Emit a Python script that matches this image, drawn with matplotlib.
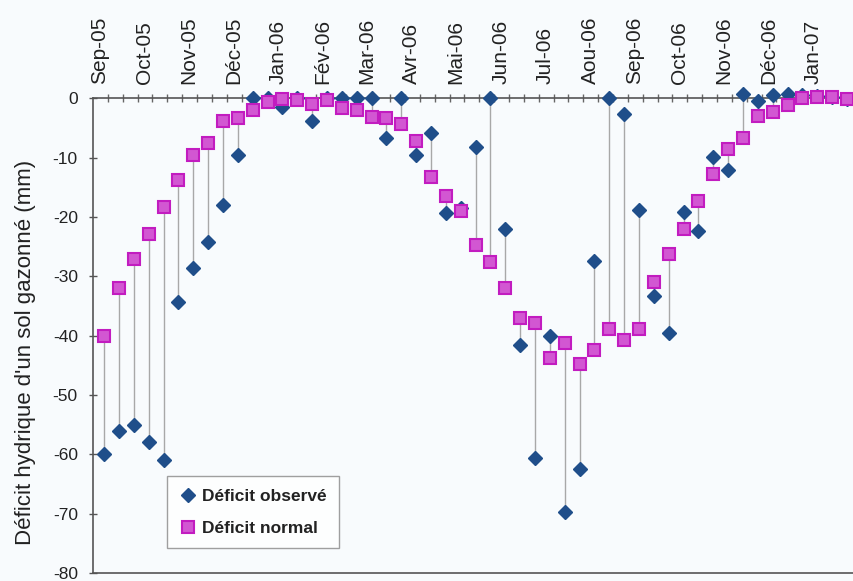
import numpy as np
import matplotlib.pyplot as plt

plt.rcParams['font.family'] = ['Liberation Sans', 'DejaVu Sans']
plt.rcParams['axes.unicode_minus'] = False

# month labels (one label every 3 "decades" of 10 days)
months = ['Sep-05', 'Oct-05', 'Nov-05', 'Déc-05', 'Jan-06', 'Fév-06', 'Mar-06',
          'Avr-06', 'Mai-06', 'Jun-06', 'Jul-06', 'Aou-06', 'Sep-06', 'Oct-06',
          'Nov-06', 'Déc-06', 'Jan-07']

# observed deficit (mm), one value per decade
observed = [-60, -56, -55, -58, -61, -34.3, -28.6, -24.2, -17.9, -9.5,
            0, 0, -1.5, 0, -3.9, 0, 0, 0, 0, -6.7,
            0, -9.6, -5.9, -19.4, -18.5, -8.2, 0, -22.1, -41.5, -60.7,
            -40.0, -69.8, -62.5, -27.5, 0, -2.7, -18.9, -33.4, -39.6, -19.2,
            -22.3, -9.9, -12.1, 0.7, -0.5, 0.6, 0.7, 0.6, 0.4, 0.2,
            -0.1]

# normal deficit (mm)
normal = [-40, -32, -27, -22.9, -18.3, -13.8, -9.5, -7.5, -3.9, -3.3,
          -2.0, -0.6, -0.2, -0.3, -0.9, -0.3, -1.6, -2.0, -3.1, -3.3,
          -4.3, -7.2, -13.2, -16.4, -19.0, -24.7, -27.6, -32.0, -37.1, -37.8,
          -43.7, -41.3, -44.7, -42.4, -38.9, -40.8, -38.8, -30.9, -26.2, -22.1,
          -17.3, -12.7, -8.5, -6.7, -3.0, -2.3, -1.1, 0.1, 0.3, 0.2,
          -0.2]

x = np.arange(len(observed))

fig = plt.figure(figsize=(8.54, 5.81), dpi=100)
fig.patch.set_facecolor('#f8fbfd')
ax = fig.add_axes([0.109, 0.0138, 0.891, 0.817])
ax.set_facecolor('#f8fbfd')

# high-low lines between the two series
ax.vlines(x, observed, normal, color='#a8a8a8', linewidth=1, zorder=2)

ax.plot(x, observed, linestyle='none', marker='D', markersize=7.5,
        color='#1f4e8a', markeredgecolor='#1f4e8a', label='Déficit observé',
        zorder=3, clip_on=False)
ax.plot(x, normal, linestyle='none', marker='s', markersize=8,
        markerfacecolor='#d257d2', markeredgecolor='#c21cc0', markeredgewidth=1.5,
        label='Déficit normal', zorder=4, clip_on=False)

ax.set_xlim(-0.74, 50.47)
ax.set_ylim(-80, 0)

# y axis
ax.set_yticks(np.arange(-80, 1, 10))
ax.tick_params(axis='y', direction='inout', length=6, width=1, color='#555555',
               labelsize=12.5, pad=8, labelcolor='#222222')
ax.set_ylabel("Déficit hydrique d'un sol gazonné (mm)", fontsize=16,
              color='#222222')
ax.yaxis.set_label_coords(-0.075, 0.465)

# x axis on top, ticks per decade, labels per month
ax.xaxis.tick_top()
ax.set_xticks(x + 0.25, minor=True)
ax.set_xticks(np.arange(len(months)) * 3 - 0.3)
ax.set_xticklabels(months, rotation=90, fontsize=15, color='#222222')
ax.tick_params(axis='x', which='major', length=0, pad=10)
ax.tick_params(axis='x', which='minor', direction='inout', length=6,
               width=1, color='#666666')

for side in ['left', 'top', 'bottom']:
    ax.spines[side].set_color('#555555')
    ax.spines[side].set_linewidth(1.2)
ax.spines['right'].set_visible(False)

leg = ax.legend(loc='upper left', bbox_to_anchor=(0.086, 0.222), fontsize=12.5,
                frameon=True, fancybox=False, edgecolor='#888888',
                handletextpad=0.3, borderpad=0.7, labelspacing=1.0,
                handlelength=1.0)
leg.get_frame().set_facecolor('white')
for t in leg.get_texts():
    t.set_fontweight('bold')
    t.set_color('#222222')

fig.savefig('out.png', dpi=100, facecolor=fig.get_facecolor())
